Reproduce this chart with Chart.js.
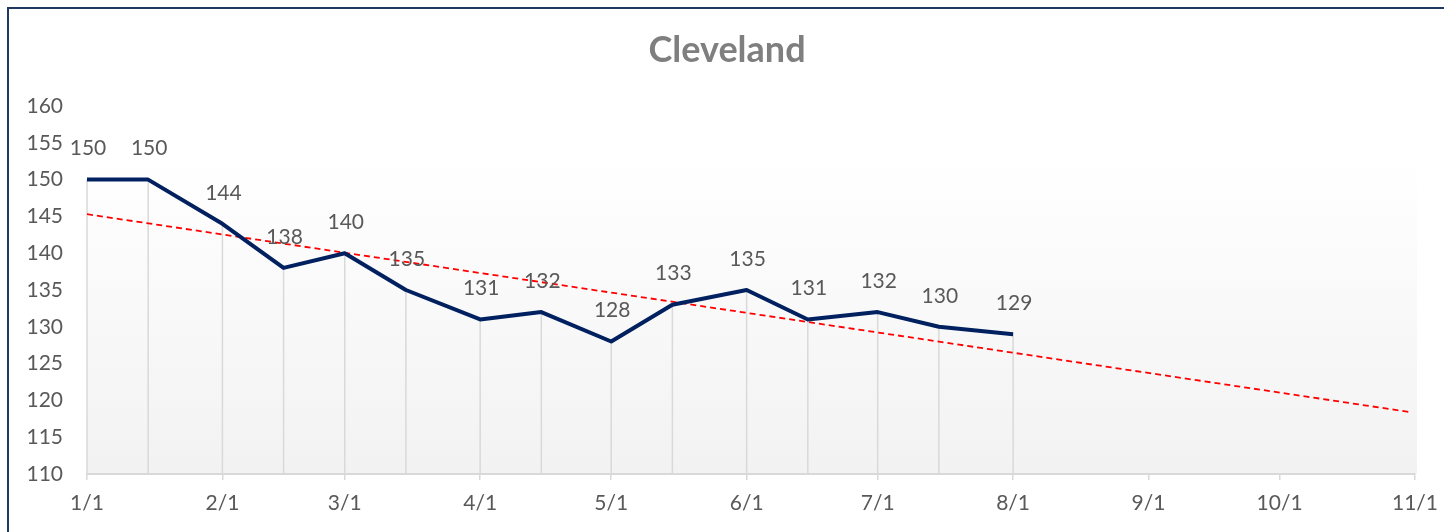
<!DOCTYPE html>
<html>
<head>
<meta charset="utf-8">
<script src="https://cdn.jsdelivr.net/npm/chart.js@4/dist/chart.umd.min.js"></script>
<style>
    body { margin: 0; background: #fff; width: 1444px; height: 532px; overflow: hidden; position: relative; }
    #frame { position: absolute; left: 7px; top: 7px; width: 1460px; height: 560px; border-left: 2px solid #1f3864; border-top: 2px solid #1f3864; }
    #myLineChart { position: absolute; left: 0; top: 0; }
</style>
</head>
<body>
<div id="frame"></div>
<canvas id="myLineChart" width="1444" height="532"></canvas>
<script>
// data
const dates = ['1/1', '1/15', '2/1', '2/15', '3/1', '3/15', '4/1', '4/15', '5/1', '5/15', '6/1', '6/15', '7/1', '7/15', '8/1'];
const values = [150, 150, 144, 138, 140, 135, 131, 132, 128, 133, 135, 131, 132, 130, 129];
const trend_dates = ['1/1', '10/31'];
const trend_values = [145.3, 118.4];
const tick_labels = ['1/1', '2/1', '3/1', '4/1', '5/1', '6/1', '7/1', '8/1', '9/1', '10/1', '11/1'];
const chart_title = 'Cleveland';

// 'm/d' -> day number from 1/1 (non leap year)
function day_of(str) {
    let [m, d] = str.split('/').map(Number);
    return (Date.UTC(2023, m - 1, d) - Date.UTC(2023, 0, 1)) / 86400000;
}

const tick_days = tick_labels.map(day_of);
const text_color = '#595959';
const font_family = 'Lato, "Open Sans", sans-serif';

const bg_plugin = {
    id: 'bg_plugin',
    beforeDraw(chart) {
        const { ctx, chartArea: a } = chart;
        let grad = ctx.createLinearGradient(0, a.top, 0, a.bottom);
        grad.addColorStop(0, '#ffffff');
        grad.addColorStop(0.15, '#ffffff');
        grad.addColorStop(1, '#f2f2f2');
        ctx.save();
        ctx.fillStyle = grad;
        ctx.fillRect(a.left, a.top, a.right - a.left + 2, a.bottom - a.top);
        // title
        ctx.fillStyle = '#7f7f7f';
        ctx.font = 'bold 36px ' + font_family;
        ctx.textAlign = 'center';
        ctx.textBaseline = 'middle';
        ctx.fillText(chart_title, 727, 50);
        ctx.restore();
    }
};

// vertical drop lines from each point down to the axis
const drop_lines = {
    id: 'drop_lines',
    beforeDatasetsDraw(chart) {
        const { ctx, chartArea: a } = chart;
        const meta = chart.getDatasetMeta(0);
        ctx.save();
        ctx.strokeStyle = '#d9d9d9';
        ctx.lineWidth = 1.5;
        meta.data.forEach(pt => {
            ctx.beginPath();
            ctx.moveTo(pt.x, pt.y);
            ctx.lineTo(pt.x, a.bottom);
            ctx.stroke();
        });
        ctx.restore();
    }
};

const data_labels = {
    id: 'data_labels',
    afterDatasetsDraw(chart) {
        const { ctx } = chart;
        const meta = chart.getDatasetMeta(0);
        ctx.save();
        ctx.fillStyle = text_color;
        ctx.font = '21px ' + font_family;
        ctx.textAlign = 'center';
        ctx.textBaseline = 'middle';
        meta.data.forEach((pt, i) => {
            ctx.fillText(String(values[i]), pt.x + 1, pt.y - 31);
        });
        ctx.restore();
    }
};

const ctx = document.getElementById('myLineChart').getContext('2d');
window.myLineChart = new Chart(ctx, {
    type: 'line',
    data: {
        datasets: [{
            label: chart_title,
            data: dates.map((d, i) => ({ x: day_of(d), y: values[i] })),
            borderColor: '#002060',
            borderWidth: 4,
            borderJoinStyle: 'round',
            pointRadius: 0,
            tension: 0,
            order: 1
        }, {
            label: 'trend',
            data: trend_dates.map((d, i) => ({ x: day_of(d), y: trend_values[i] })),
            borderColor: '#ff0000',
            borderWidth: 1.8,
            borderDash: [6, 4],
            pointRadius: 0,
            order: 2
        }]
    },
    options: {
        responsive: false,
        animation: false,
        layout: { padding: { left: 0, right: 29, top: 106, bottom: 0 } },
        plugins: {
            legend: { display: false },
            tooltip: { enabled: false },
            title: { display: false }
        },
        scales: {
            x: {
                type: 'linear',
                min: 0,
                max: day_of('11/1'),
                afterBuildTicks: scale => {
                    scale.ticks = tick_days.map(v => ({ value: v }));
                },
                afterFit: scale => {
                    scale.height = 58;
                    scale.paddingLeft = 0;
                    scale.paddingRight = 0;
                },
                ticks: {
                    autoSkip: false,
                    maxRotation: 0,
                    color: text_color,
                    font: { family: font_family, size: 21 },
                    padding: 11,
                    callback: v => tick_labels[tick_days.indexOf(v)]
                },
                grid: {
                    drawOnChartArea: false,
                    drawTicks: true,
                    tickLength: 6,
                    color: '#d9d9d9',
                    lineWidth: 1.5
                },
                border: { color: '#d9d9d9', width: 2 }
            },
            y: {
                min: 110,
                max: 160,
                afterFit: scale => { scale.width = 87; },
                ticks: {
                    stepSize: 5,
                    color: text_color,
                    font: { family: font_family, size: 21 },
                    padding: 24
                },
                grid: { display: false, drawTicks: false },
                border: { display: false }
            }
        }
    },
    plugins: [bg_plugin, drop_lines, data_labels]
});
</script>
</body>
</html>
